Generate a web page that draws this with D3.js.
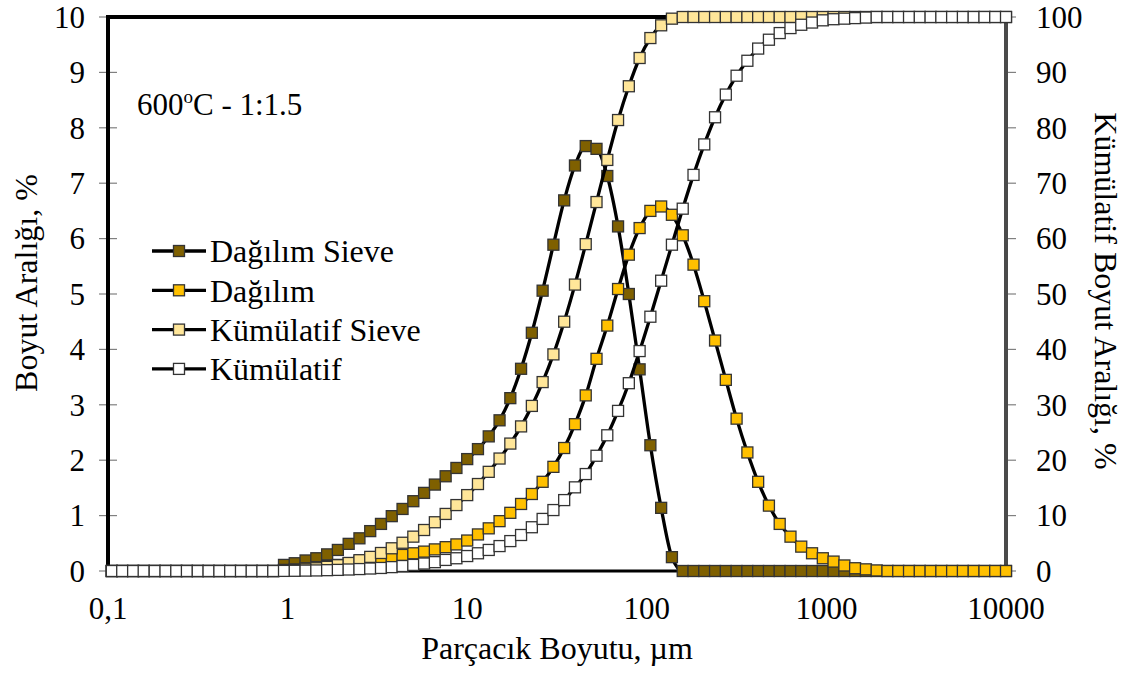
<!DOCTYPE html>
<html>
<head>
<meta charset="utf-8">
<script src="https://cdn.jsdelivr.net/npm/d3@7"></script>
<style>
  html, body { margin: 0; padding: 0; background: #fff; }
  svg { display: block; }
  text { font-family: "Liberation Serif", "Times New Roman", serif; fill: #000; }
</style>
</head>
<body>
<svg id="chart" width="1128" height="673"></svg>
<script>
// Particle size classes, µm
const sizes = [
  0.105, 0.120, 0.138, 0.158, 0.182, 0.209, 0.240, 0.275, 0.316, 0.363,
  0.417, 0.479, 0.550, 0.631, 0.724, 0.832, 0.955, 1.096, 1.259, 1.445,
  1.660, 1.905, 2.188, 2.512, 2.884, 3.311, 3.802, 4.365, 5.012, 5.754,
  6.607, 7.586, 8.710, 10.00, 11.48, 13.18, 15.14, 17.38, 19.95, 22.91,
  26.30, 30.20, 34.67, 39.81, 45.71, 52.48, 60.26, 69.18, 79.43, 91.20,
  104.7, 120.2, 138.0, 158.5, 182.0, 208.9, 239.9, 275.4, 316.2, 363.1,
  416.9, 478.6, 549.5, 631.0, 724.4, 831.8, 955.0, 1096, 1259, 1445,
  1660, 1905, 2188, 2512, 2884, 3311, 3802, 4365, 5012, 5754,
  6607, 7586, 8710, 10000
];

// Size distribution after sieving, % per class (left axis)
const dagilimSieve = [
  0, 0, 0, 0, 0, 0, 0, 0, 0, 0,
  0, 0, 0, 0, 0, 0, 0.11, 0.14, 0.19, 0.23,
  0.30, 0.38, 0.49, 0.59, 0.72, 0.85, 0.99, 1.12, 1.26, 1.41,
  1.56, 1.71, 1.86, 2.02, 2.20, 2.43, 2.72, 3.12, 3.65, 4.30,
  5.06, 5.89, 6.69, 7.32, 7.67, 7.62, 7.13, 6.22, 5.00, 3.64,
  2.27, 1.14, 0.25, 0, 0, 0, 0, 0, 0, 0,
  0, 0, 0, 0, 0, 0, 0, 0, 0, 0,
  0, 0, 0, 0, 0, 0, 0, 0, 0, 0,
  0, 0, 0, 0
];

// Size distribution, % per class (left axis)
const dagilim = [
  0, 0, 0, 0, 0, 0, 0, 0, 0, 0,
  0, 0, 0, 0, 0, 0, 0.02, 0.03, 0.05, 0.07,
  0.09, 0.11, 0.14, 0.17, 0.20, 0.23, 0.26, 0.29, 0.32, 0.35,
  0.39, 0.43, 0.48, 0.55, 0.66, 0.77, 0.90, 1.05, 1.21, 1.39,
  1.61, 1.88, 2.22, 2.65, 3.17, 3.83, 4.43, 5.09, 5.71, 6.19,
  6.50, 6.58, 6.43, 6.06, 5.53, 4.87, 4.16, 3.45, 2.75, 2.14,
  1.61, 1.18, 0.85, 0.62, 0.44, 0.32, 0.23, 0.17, 0.10, 0.05,
  0.03, 0.01, 0, 0, 0, 0, 0, 0, 0, 0,
  0, 0, 0, 0
];

// Cumulative share after sieving, % (right axis)
const kumulatifSieve = [
  0, 0, 0, 0, 0, 0, 0, 0, 0, 0,
  0, 0, 0, 0, 0, 0, 0.05, 0.15, 0.3, 0.5,
  0.75, 1.05, 1.45, 1.95, 2.55, 3.25, 4.1, 5.1, 6.2, 7.4,
  8.8, 10.3, 11.9, 13.7, 15.7, 17.9, 20.3, 23.0, 26.1, 29.8,
  34.1, 39.1, 45.0, 51.7, 59.0, 66.6, 74.2, 81.4, 87.5, 92.6,
  96.2, 98.5, 99.7, 100, 100, 100, 100, 100, 100, 100,
  100, 100, 100, 100, 100, 100, 100, 100, 100, 100,
  100, 100, 100, 100, 100, 100, 100, 100, 100, 100,
  100, 100, 100, 100
];

// Cumulative share, % (right axis)
const kumulatif = [
  0, 0, 0, 0, 0, 0, 0, 0, 0, 0,
  0, 0, 0, 0, 0, 0, 0.02, 0.04, 0.07, 0.1,
  0.15, 0.2, 0.27, 0.35, 0.45, 0.55, 0.7, 0.9, 1.1, 1.35,
  1.6, 2.0, 2.3, 2.7, 3.2, 3.8, 4.5, 5.4, 6.5, 7.9,
  9.4, 11.0, 12.8, 15.1, 17.5, 20.8, 24.5, 28.9, 33.9, 39.7,
  45.9, 52.4, 58.9, 65.4, 71.5, 77.0, 81.9, 86.0, 89.4, 92.1,
  94.3, 95.9, 97.1, 98.0, 98.6, 99.0, 99.4, 99.6, 99.7, 99.8,
  99.9, 100, 100, 100, 100, 100, 100, 100, 100, 100,
  100, 100, 100, 100
];

const xTickValues = [0.1, 1, 10, 100, 1000, 10000];
const xTickLabels = ["0,1", "1", "10", "100", "1000", "10000"];
const leftTicks = [0, 1, 2, 3, 4, 5, 6, 7, 8, 9, 10];
const rightTicks = [0, 10, 20, 30, 40, 50, 60, 70, 80, 90, 100];

const seriesNames = ["Dağılım Sieve", "Dağılım", "Kümülatif Sieve", "Kümülatif"];
const seriesColors = ["#7F6000", "#FFC000", "#FFE699", "#FFFFFF"];

// ---- layout ----
const svg = d3.select("#chart");
const plotLeft = 108, plotRight = 1006, plotTop = 17, plotBottom = 571;
const tickFont = 31, titleFont = 32;

const x = d3.scaleLog().domain([0.1, 10000]).range([plotLeft, plotRight]);
const yL = d3.scaleLinear().domain([0, 10]).range([plotBottom, plotTop]);
const yR = d3.scaleLinear().domain([0, 100]).range([plotBottom, plotTop]);

const series = [
  { name: seriesNames[0], color: seriesColors[0], values: dagilimSieve, y: yL },
  { name: seriesNames[1], color: seriesColors[1], values: dagilim, y: yL },
  { name: seriesNames[2], color: seriesColors[2], values: kumulatifSieve, y: yR },
  { name: seriesNames[3], color: seriesColors[3], values: kumulatif, y: yR }
];

// left axis ticks (cross the axis line)
const leftAxis = svg.append("g");
leftAxis.selectAll("line").data(leftTicks).join("line")
  .attr("x1", plotLeft - 9).attr("x2", plotLeft + 9)
  .attr("y1", d => yL(d)).attr("y2", d => yL(d))
  .attr("stroke", "#808080").attr("stroke-width", 1.2);
leftAxis.selectAll("text").data(leftTicks).join("text")
  .attr("x", 85).attr("y", d => yL(d)).attr("dy", "0.35em")
  .attr("text-anchor", "end").attr("font-size", tickFont)
  .text(d => d);

// right axis ticks
const rightAxis = svg.append("g");
rightAxis.selectAll("line").data(rightTicks).join("line")
  .attr("x1", plotRight).attr("x2", plotRight + 10)
  .attr("y1", d => yR(d)).attr("y2", d => yR(d))
  .attr("stroke", "#808080").attr("stroke-width", 1.2);
rightAxis.selectAll("text").data(rightTicks).join("text")
  .attr("x", 1036).attr("y", d => yR(d)).attr("dy", "0.35em")
  .attr("text-anchor", "start").attr("font-size", tickFont)
  .text(d => d);

// x tick labels
svg.append("g").selectAll("text").data(xTickValues).join("text")
  .attr("x", d => x(d)).attr("y", 619)
  .attr("text-anchor", "middle").attr("font-size", tickFont)
  .text((d, i) => xTickLabels[i]);

// frame
svg.append("line").attr("x1", plotLeft).attr("x2", plotRight).attr("y1", plotTop).attr("y2", plotTop)
  .attr("stroke", "#000").attr("stroke-width", 4);
svg.append("line").attr("x1", plotLeft).attr("x2", plotRight).attr("y1", plotBottom).attr("y2", plotBottom)
  .attr("stroke", "#000").attr("stroke-width", 3);
svg.append("line").attr("x1", plotLeft).attr("x2", plotLeft).attr("y1", plotTop - 2).attr("y2", plotBottom + 1.5)
  .attr("stroke", "#000").attr("stroke-width", 4);
svg.append("line").attr("x1", plotRight).attr("x2", plotRight).attr("y1", plotTop - 2).attr("y2", plotBottom + 1.5)
  .attr("stroke", "#4a4a4a").attr("stroke-width", 4);

// series lines and markers
const markerSize = 11;
series.forEach(s => {
  const pts = sizes.map((d, i) => [x(d), s.y(s.values[i])]);
  const g = svg.append("g");
  g.append("path")
    .attr("d", d3.line().curve(d3.curveMonotoneX)(pts))
    .attr("fill", "none").attr("stroke", "#000").attr("stroke-width", 3.3);
  g.selectAll("rect").data(pts).join("rect")
    .attr("x", d => d[0] - markerSize / 2).attr("y", d => d[1] - markerSize / 2)
    .attr("width", markerSize).attr("height", markerSize)
    .attr("fill", s.color).attr("stroke", "#333").attr("stroke-width", 1.3);
});

// legend
const legend = svg.append("g");
series.forEach((s, i) => {
  const ly = 251 + i * 39.3;
  legend.append("line").attr("x1", 152).attr("x2", 206).attr("y1", ly).attr("y2", ly)
    .attr("stroke", "#000").attr("stroke-width", 3.3);
  legend.append("rect").attr("x", 179 - markerSize / 2).attr("y", ly - markerSize / 2)
    .attr("width", markerSize).attr("height", markerSize)
    .attr("fill", s.color).attr("stroke", "#333").attr("stroke-width", 1.3);
  legend.append("text").attr("x", 210).attr("y", ly).attr("dy", "0.35em")
    .attr("font-size", titleFont).text(s.name);
});

// annotation
const ann = svg.append("text").attr("x", 137).attr("y", 115).attr("font-size", 31);
ann.append("tspan").text("600");
ann.append("tspan").attr("font-size", 19).attr("dy", -12).text("o");
ann.append("tspan").attr("dy", 12).text("C - 1:1.5");

// axis titles
svg.append("text").attr("x", (plotLeft + plotRight) / 2).attr("y", 659)
  .attr("text-anchor", "middle").attr("font-size", titleFont)
  .text("Parçacık Boyutu, µm");
svg.append("text")
  .attr("transform", "translate(37, 283) rotate(-90)")
  .attr("text-anchor", "middle").attr("font-size", titleFont)
  .text("Boyut Aralığı, %");
svg.append("text")
  .attr("transform", "translate(1095, 291) rotate(90)")
  .attr("text-anchor", "middle").attr("font-size", titleFont)
  .text("Kümülatif Boyut Aralığı, %");
</script>
</body>
</html>
